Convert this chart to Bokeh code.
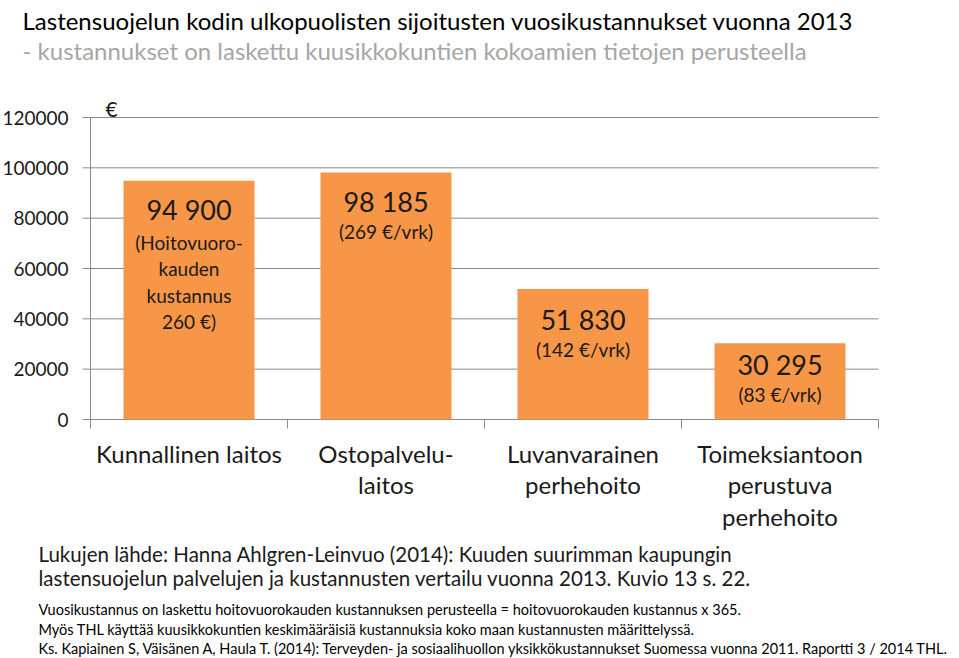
from bokeh.plotting import figure
from bokeh.models import ColumnDataSource, Range1d
from bokeh.core.properties import value
from bokeh.embed import file_html
from bokeh.resources import INLINE

# ---- data ----
categories = ["Kunnallinen laitos", "Ostopalvelulaitos",
              "Luvanvarainen perhehoito", "Toimeksiantoon perustuva perhehoito"]
category_labels = ["Kunnallinen laitos", "Ostopalvelu-\nlaitos",
                   "Luvanvarainen\nperhehoito", "Toimeksiantoon\nperustuva\nperhehoito"]
annual_costs = [94900, 98185, 51830, 30295]
value_labels = ["94 900", "98 185", "51 830", "30 295"]
daily_labels = ["(Hoitovuoro-\nkauden\nkustannus\n260 €)", "(269 €/vrk)",
                "(142 €/vrk)", "(83 €/vrk)"]
y_ticks = [0, 20000, 40000, 60000, 80000, 100000, 120000]
y_tick_labels = ["0", "20000", "40000", "60000", "80000", "100000", "120000"]

title_text = "Lastensuojelun kodin ulkopuolisten sijoitusten vuosikustannukset vuonna 2013"
subtitle_text = "- kustannukset on laskettu kuusikkokuntien kokoamien tietojen perusteella"
source_lines = ["Lukujen lähde: Hanna Ahlgren-Leinvuo (2014):  Kuuden suurimman kaupungin",
                "lastensuojelun palvelujen ja kustannusten vertailu vuonna 2013. Kuvio 13 s. 22."]
footer_lines = ["Vuosikustannus on laskettu hoitovuorokauden kustannuksen perusteella = hoitovuorokauden kustannus x 365.",
                "Myös THL käyttää kuusikkokuntien keskimääräisiä kustannuksia koko maan kustannusten määrittelyssä.",
                "Ks. Kapiainen S, Väisänen A, Haula T. (2014):  Terveyden- ja sosiaalihuollon yksikkökustannukset Suomessa vuonna 2011. Raportti 3 / 2014 THL."]

# ---- layout / style ----
FONT = value("Lato")
ORANGE = "#F79646"
GRID = "#8a8a8a"
TXT = "#1a1a1a"
W, H = 959, 658
PL, PR, PT, PB = 90, 878, 117, 419      # plot area in canvas pixels
YMAX = 120000

n = len(categories)
ypp = YMAX / (PB - PT)                   # data units per pixel (y)
xpp = n / (PR - PL)                      # data units per pixel (x)
y_start, y_end = -(H - PB) * ypp, YMAX + PT * ypp
x_start, x_end = -PL * xpp, n + (W - PR) * xpp

def px_x(px):
    return x_start + px * xpp

def px_y(py):
    return y_end - py * ypp

slot_centers = [i + 0.5 for i in range(n)]
bounds = list(range(n + 1))

p = figure(width=W, height=H, x_range=Range1d(x_start, x_end),
           y_range=Range1d(y_start, y_end), output_backend="svg",
           toolbar_location=None, x_axis_type=None, y_axis_type=None,
           min_border=0, title=None)
p.outline_line_color = None
p.grid.visible = False
p.background_fill_color = "white"
p.border_fill_color = "white"

# gridlines and axes
p.segment(x0=[0] * len(y_ticks), x1=[n] * len(y_ticks), y0=y_ticks, y1=y_ticks,
          line_color=GRID, line_width=1)
p.segment(x0=[0], x1=[0], y0=[0], y1=[YMAX], line_color=GRID, line_width=1)
p.segment(x0=[-8 * xpp] * len(y_ticks), x1=[0] * len(y_ticks), y0=y_ticks, y1=y_ticks,
          line_color=GRID, line_width=1)
p.segment(x0=bounds, x1=bounds, y0=[0] * len(bounds), y1=[-9 * ypp] * len(bounds),
          line_color=GRID, line_width=1)

# bars
src = ColumnDataSource(dict(
    x=slot_centers, top=annual_costs, val=value_labels, daily=daily_labels,
    main_off=[29, 29, 30, 21], sub_off=[50, 48, 49, 40]))
p.vbar(x="x", top="top", bottom=0, width=0.665, source=src,
       fill_color=ORANGE, line_color=None)

# y tick labels
p.text(x=[-22 * xpp] * len(y_ticks), y=y_ticks, text=y_tick_labels,
       text_align="right", text_baseline="middle", text_font=FONT,
       text_font_size="19px", text_color=TXT)

# value labels inside bars
p.text(x="x", y="top", text="val", source=src, y_offset="main_off",
       text_align="center", text_baseline="middle", text_font=FONT,
       text_font_size="27px", text_color=TXT)
p.text(x="x", y="top", text="daily", source=src, y_offset="sub_off",
       text_align="center", text_baseline="top", text_font=FONT,
       text_font_size="19px", text_color=TXT, text_line_height=1.15)

# category labels
p.text(x=slot_centers, y=[0] * n, text=category_labels, y_offset=19,
       text_align="center", text_baseline="top", text_font=FONT,
       text_font_size="24px", text_color=TXT, text_line_height=1.09)

def lab(text, x, y, size, color=TXT):
    p.text(x=[px_x(x)], y=[px_y(y)], text=[text], text_font=FONT,
           text_font_size=size, text_color=color,
           text_baseline="alphabetic", text_align="left")

lab(title_text, 22, 20, "24px", "#000000")
lab(subtitle_text, 22, 50, "24px", "#a6a6a6")
lab("€", 105, 108, "21px")
for i, t in enumerate(source_lines):
    lab(t, 38, 553 + 24 * i, "20.5px")
for i, t in enumerate(footer_lines):
    lab(t, 38, 609 + 19.5 * i, "14.5px", "#000000")

open("out.html", "w").write(file_html(p, INLINE))
